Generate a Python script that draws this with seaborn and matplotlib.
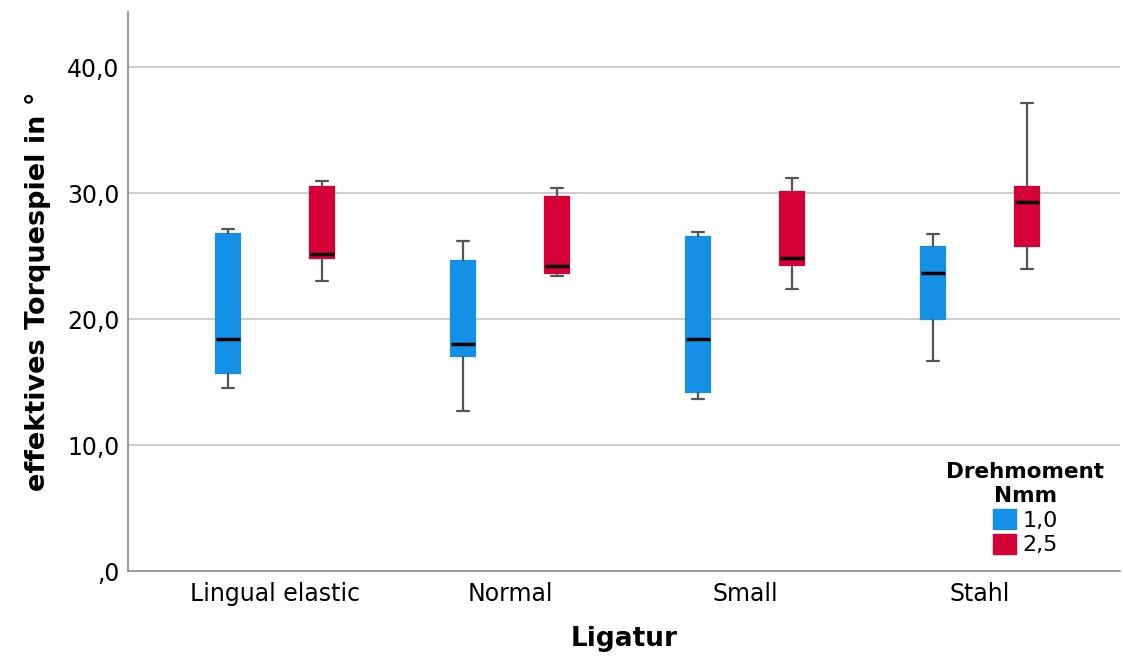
import numpy as np
import pandas as pd
import matplotlib
matplotlib.use("Agg")
import matplotlib.pyplot as plt
import matplotlib.patches as mpatches
import seaborn as sns

ligatur = ["Lingual elastic", "Normal", "Small", "Stahl"]
drehmoment = ["1,0", "2,5"]
# per group: [min, Q1, median, Q3, max]
torque_10 = [[14.5, 15.7, 18.4, 26.8, 27.2],
             [12.7, 17.1, 18.0, 24.6, 26.2],
             [13.7, 14.2, 18.4, 26.55, 26.9],
             [16.7, 20.0, 23.7, 25.75, 26.8]]
torque_25 = [[23.05, 24.9, 25.2, 30.5, 31.0],
             [23.45, 23.7, 24.2, 29.7, 30.4],
             [22.4, 24.3, 24.9, 30.1, 31.2],
             [24.0, 25.8, 29.3, 30.5, 37.2]]
yticks = [0, 10, 20, 30, 40]
yticklabels = [",0", "10,0", "20,0", "30,0", "40,0"]

rows = []
for lig, v1, v2 in zip(ligatur, torque_10, torque_25):
    for v in v1:
        rows.append((lig, drehmoment[0], v))
    for v in v2:
        rows.append((lig, drehmoment[1], v))
df = pd.DataFrame(rows, columns=["Ligatur", "Drehmoment", "Torque"])

sns.set_style("white")
plt.rcParams['font.family'] = ['DejaVu Sans']
plt.rcParams['text.color'] = 'black'
plt.rcParams['axes.labelcolor'] = 'black'
plt.rcParams['xtick.color'] = 'black'
plt.rcParams['ytick.color'] = 'black'

colors = {"1,0": "#1490e6", "2,5": "#d50036"}

fig = plt.figure(figsize=(11.23, 6.66), dpi=100)
ax = fig.add_axes([128/1123, 95/666, 992/1123, 559/666])

sns.boxplot(data=df, x="Ligatur", y="Torque", hue="Drehmoment",
            order=ligatur, hue_order=drehmoment, palette=colors,
            width=0.8, gap=0.75, whis=(0, 100), saturation=1,
            linecolor="#555555", linewidth=1.6,
            medianprops={"color": "black", "linewidth": 2.5},
            showfliers=False, ax=ax, legend=False, zorder=3)

for p in ax.patches:
    p.set_edgecolor(p.get_facecolor())

ax.set_xlim(-0.626, 3.596)
ax.set_ylim(0, 44.4)
ax.set_yticks(yticks)
ax.set_yticklabels(yticklabels, fontsize=17)
ax.tick_params(axis="x", labelsize=17, length=0, pad=8)
ax.tick_params(axis="y", length=0, pad=6)
for y in yticks[1:]:
    ax.axhline(y, color="#c8c8c8", linewidth=1.3, zorder=0)

for s in ["top", "right"]:
    ax.spines[s].set_visible(False)
for s in ["left", "bottom"]:
    ax.spines[s].set_color("#888888")
    ax.spines[s].set_linewidth(1.2)

ax.set_xlabel("Ligatur", fontsize=19, fontweight="bold", labelpad=14)
ax.set_ylabel("effektives Torquespiel in °", fontsize=19.5, fontweight="bold", labelpad=12)

handles = [mpatches.Patch(facecolor=colors[d], edgecolor=colors[d], label=d) for d in drehmoment]
leg = ax.legend(handles=handles, title="Drehmoment\nNmm", loc="lower right",
                bbox_to_anchor=(1.0, 0.0), frameon=False, fontsize=16,
                title_fontproperties={"weight": "bold", "size": 15.5},
                handlelength=1.0, handleheight=1.0, handletextpad=0.3,
                labelspacing=0.15, alignment="center", borderpad=0.2)
leg.get_title().set_multialignment("center")

fig.savefig("out.png", dpi=100)
